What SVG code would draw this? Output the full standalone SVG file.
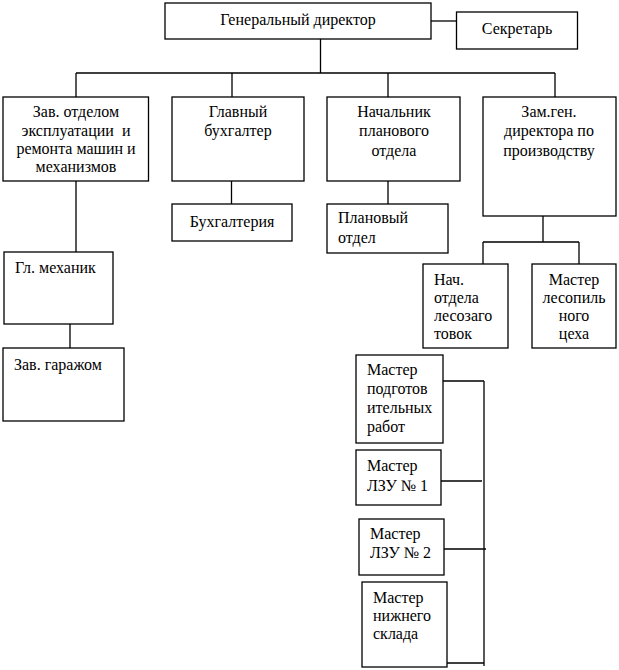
<svg xmlns="http://www.w3.org/2000/svg" width="619" height="670" viewBox="0 0 619 670">
<style>
rect{fill:#fff;stroke:#000;stroke-width:1.3}
text{font-family:'Liberation Serif','DejaVu Serif',serif;font-size:16px;fill:#000}
.c{text-anchor:middle}
#connectors path{fill:none;stroke:#000;stroke-width:1.3}
</style>
<rect x="0" y="0" width="619" height="670" style="stroke:none"/>
<g id="connectors">
<path d="M431 21H456"/>
<path d="M320.5 39V73M76 73H555M76 73V97M232 73V97M388 73V97M555 73V97"/>
<path d="M76 181V253M70 324V348"/>
<path d="M231.5 181V204M388 181V204"/>
<path d="M543 216V242M483 242H579M483 242V264M579 242V264"/>
<path d="M484 381V666M443 381H484M441 481H482M444 549H486M447 663H484"/>
</g>
<g font-family="Liberation Serif, DejaVu Serif, serif">
<g id="gen"><rect x="165" y="3" width="266" height="36"/><text class="c" x="298" y="25">Генеральный директор</text></g>
<g id="sec"><rect x="456.5" y="12" width="121" height="37"/><text class="c" x="517" y="34">Секретарь</text></g>
<g id="zav"><rect x="3" y="97" width="145.5" height="84"/><text class="c" x="76" y="117">Зав. отделом</text><text class="c" x="76" y="136" style="white-space:pre">эксплуатации  и</text><text class="c" x="76" y="154">ремонта машин и</text><text class="c" x="76" y="172">механизмов</text></g>
<g id="buh"><rect x="172" y="97" width="132" height="84"/><text class="c" x="238" y="117">Главный</text><text class="c" x="238" y="136">бухгалтер</text></g>
<g id="plan"><rect x="327" y="97" width="133" height="84"/><text class="c" x="394" y="117">Начальник</text><text class="c" x="394" y="136">планового</text><text class="c" x="394" y="156">отдела</text></g>
<g id="zam"><rect x="483" y="97" width="133" height="119"/><text class="c" x="549" y="117">Зам.ген.</text><text class="c" x="549" y="136">директора по</text><text class="c" x="549" y="156">производству</text></g>
<g id="mech"><rect x="4" y="252" width="109" height="72"/><text x="15" y="273">Гл. механик</text></g>
<g id="gar"><rect x="3" y="348" width="121" height="73"/><text x="14" y="370">Зав. гаражом</text></g>
<g id="buhg"><rect x="172" y="204" width="120" height="37"/><text class="c" x="232" y="227">Бухгалтерия</text></g>
<g id="plo"><rect x="327" y="204" width="121" height="49"/><text x="338" y="223">Плановый</text><text x="338" y="243">отдел</text></g>
<g id="nach"><rect x="423" y="264" width="85" height="84"/><text x="434" y="285">Нач.</text><text x="434" y="303">отдела</text><text x="434" y="321">лесозаго</text><text x="434" y="339">товок</text></g>
<g id="les"><rect x="532" y="264" width="84" height="84"/><text class="c" x="574" y="285">Мастер</text><text class="c" x="574" y="303">лесопиль</text><text class="c" x="574" y="321">ного</text><text class="c" x="574" y="339">цеха</text></g>
<g id="podg"><rect x="356" y="355" width="87" height="88"/><text x="367" y="375">Мастер</text><text x="367" y="394">подготов</text><text x="367" y="413">ительных</text><text x="367" y="432">работ</text></g>
<g id="lzu1"><rect x="356" y="450" width="85" height="55"/><text x="367" y="471">Мастер</text><text x="367" y="491">ЛЗУ № 1</text></g>
<g id="lzu2"><rect x="359" y="519" width="85" height="56"/><text x="370" y="539">Мастер</text><text x="370" y="558">ЛЗУ № 2</text></g>
<g id="nizh"><rect x="362" y="582" width="85" height="85"/><text x="373" y="603">Мастер</text><text x="373" y="621">нижнего</text><text x="373" y="639">склада</text></g>
</g>
</svg>
